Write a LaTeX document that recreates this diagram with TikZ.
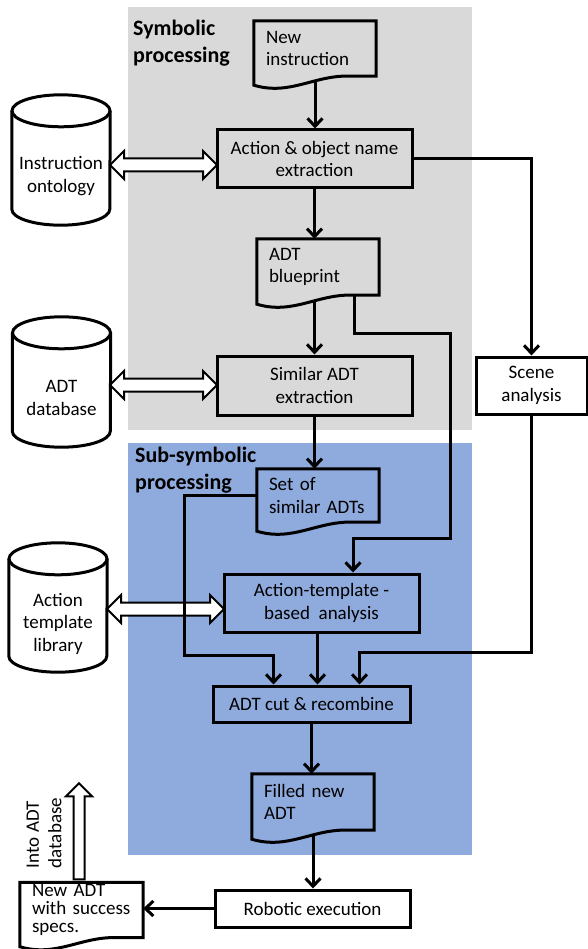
\documentclass[tikz,border=0pt]{standalone}
\usepackage{fontspec}
\setmainfont{Carlito}
\usetikzlibrary{shapes.arrows,arrows.meta,calc}
\definecolor{symgray}{RGB}{217,217,217}
\definecolor{subblue}{RGB}{143,170,220}
\newcommand{\docoutline}[1]{%
  \draw[docline] (#1.north west) -- (#1.north east) -- (#1.south east)
    -- ($(#1.south west)!0.8!(#1.south east)$)
    .. controls ($(#1.south west)!0.5!(#1.south east)+(0,-2)$)
    and ($(#1.south west)!0.3!(#1.south east)+(0,20)$)
    .. ($(#1.south west)+(0,9)$) -- cycle;}
\newcommand{\storeoutline}[1]{%
  \draw[docline] ($(#1.north west)+(0,-16)$) -- ($(#1.south west)+(0,-16)$)
    arc[start angle=180,end angle=360,x radius=49pt,y radius=16pt]
    -- ($(#1.north east)+(0,-16)$);
  \draw[docline] ($(#1.north)+(0,-16)$) ellipse[x radius=49pt,y radius=16pt];}

\begin{document}
\begin{tikzpicture}[x=1pt,y=-1pt]
\tikzset{every node/.style={font=\fontsize{19}{22.5}\selectfont}}
\tikzset{proc/.style={draw,line width=3pt,minimum width=195pt,inner sep=0pt,align=center}}
\tikzset{docnode/.style={minimum width=122pt,text width=98pt,inner xsep=12pt,inner ysep=0pt,align=left}}
\tikzset{docline/.style={line width=3pt}}
\tikzset{store/.style={minimum width=98pt,minimum height=98pt,inner sep=0pt,align=center}}
\tikzset{link/.style={line width=3pt,-{Straight Barb[length=8pt,width=15pt]}}}
\tikzset{hollow/.style={draw,fill=white,line width=2pt,inner xsep=0pt}}
\tikzset{header/.style={font=\fontsize{22}{27.5}\selectfont\bfseries,align=left,inner sep=0pt,anchor=west}}
\useasboundingbox (0,0) rectangle (588,949);
% processing areas
\fill[symgray] (128,7) rectangle (472,430);
\fill[subblue] (128,443) rectangle (472,855);
\node[header] (symtitle) at (133,43) {Symbolic\\processing};
\node[header] (subtitle) at (135,470) {Sub-symbolic\\processing};
% symbolic part
\node[docnode,minimum height=55pt] (newinstr) at (315,48.5) {New\\instruction};
\node[proc,minimum height=58pt] (extract) at (314.5,159) {Action \& object name\\extraction};
\node[store] (ontology) at (61,176) {Instruction\\ontology};
\node[hollow,double arrow,minimum height=107pt,inner ysep=5.5pt,double arrow head extend=7.5pt] (ontoarrow) at (163.5,165) {};
\node[docnode,minimum height=56pt] (blueprint) at (318,267) {ADT\\blueprint};
\node[proc,minimum height=59pt] (similar) at (314.5,385.5) {Similar ADT\\extraction};
\node[store] (adtdb) at (61.5,398) {ADT\\database};
\node[hollow,double arrow,minimum height=107pt,inner ysep=5.5pt,double arrow head extend=7.5pt] (dbarrow) at (163.5,385) {};
\node[proc,minimum width=111pt,minimum height=57pt,fill=white] (scene) at (531.5,385.5) {Scene\\analysis};
% sub-symbolic part
\node[docnode,minimum height=53pt] (adtset) at (318,495.5) {Set of\\similar ADTs};
\node[proc,minimum height=58pt] (template) at (321.5,603) {Action-template -\\based\ \ analysis};
\node[store,minimum height=97pt] (library) at (58,623.5) {Action\\template\\library};
\node[hollow,double arrow,minimum height=117pt,inner ysep=5.5pt,double arrow head extend=7.5pt] (libarrow) at (165.5,609) {};
\node[proc,minimum width=197pt,minimum height=36pt] (recombine) at (311.5,704) {ADT cut \& recombine};
\node[docnode,minimum height=56pt] (filled) at (313,802) {Filled new\\ADT};
% execution
\node[proc,minimum height=37pt] (robot) at (312.5,908.5) {Robotic execution};
\node[docnode,minimum width=123pt,text width=99pt,minimum height=55pt,font=\fontsize{19}{18}\selectfont] (newadt) at (81.5,910) {New ADT\\with success\\specs.};
\node[hollow,single arrow,shape border rotate=90,minimum height=96pt,inner xsep=4.5pt,inner ysep=4.5pt,single arrow head extend=7.5pt] (intoarrow) at (79,834) {};
\node[rotate=90,align=left,inner sep=0pt] (intotext) at (44,833) {Into ADT\\database};
\docoutline{newinstr}
\docoutline{blueprint}
\docoutline{adtset}
\docoutline{filled}
\docoutline{newadt}
\storeoutline{ontology}
\storeoutline{adtdb}
\storeoutline{library}
% connectors
\coordinate (bpout) at ($(blueprint.south west)!0.8!(blueprint.south east)$);
\coordinate (bendA) at (450,333);
\coordinate (bendB) at (353,538);
\coordinate (jS) at (531.5,652);
\coordinate (jT) at (184,655);
\coordinate (cutL) at ($(recombine.north west)!0.31!(recombine.north east)$);
\coordinate (cutM) at ($(recombine.north west)!0.53!(recombine.north east)$);
\coordinate (cutR) at ($(recombine.north west)!0.74!(recombine.north east)$);
\draw[link] ($(newinstr.south)+(0,5)$) -- (newinstr.south |- extract.north);
\draw[link] (extract.south) -- (extract.south |- blueprint.north);
\draw[link] ($(similar.north |- blueprint.south)+(0,5)$) -- (similar.north);
\draw[link] (similar.south) -- (similar.south |- adtset.north);
\draw[link] (extract.east) -| (scene.north);
\draw[link] (bpout) |- (bendA) |- (bendB) -- (bendB |- template.north);
\draw[link] (scene.south) -- (jS) -| (cutR);
\draw[link] (adtset.west) -| (jT) -| (cutL);
\draw[link] (template.south -| cutM) -- (cutM);
\draw[link] (recombine.south) -- (recombine.south |- filled.north);
\draw[link] ($(filled.south)+(0,5)$) -- (filled.south |- robot.north);
\draw[link] (robot.west) -- (robot.west -| newadt.east);
\end{tikzpicture}
\end{document}
